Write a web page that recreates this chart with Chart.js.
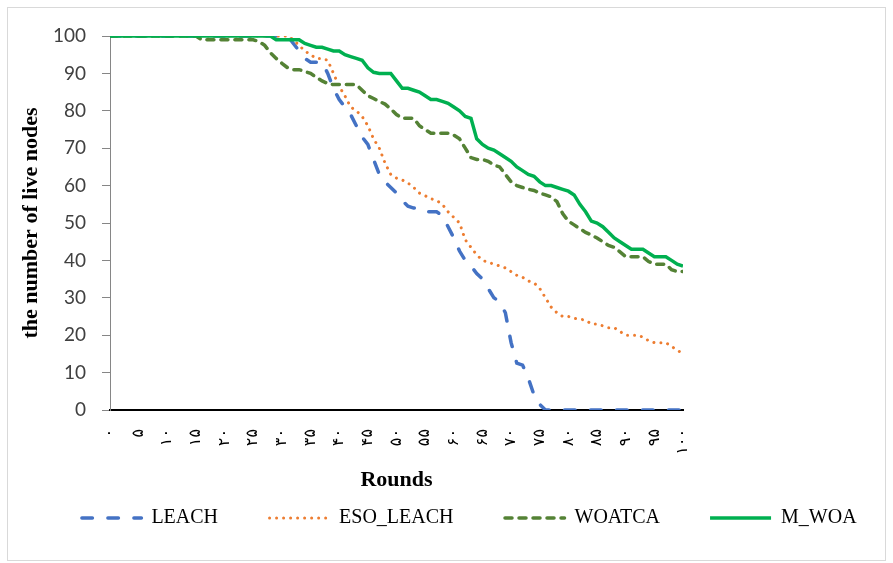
<!DOCTYPE html>
<html>
<head>
<meta charset="utf-8">
<script src="https://cdn.jsdelivr.net/npm/chart.js@4.4.1/dist/chart.umd.min.js"></script>
<style>
html,body{margin:0;padding:0;background:#fff;}
#wrap{width:893px;height:563px;position:relative;}
</style>
</head>
<body>
<div id="wrap"><canvas id="c" width="893" height="563"></canvas></div>
<script>
// ---- data ----
const rounds = [
  0,1,2,3,4,5,6,7,8,9,
  10,11,12,13,14,15,16,17,18,19,
  20,21,22,23,24,25,26,27,28,29,
  30,31,32,33,34,35,36,37,38,39,
  40,41,42,43,44,45,46,47,48,49,
  50,51,52,53,54,55,56,57,58,59,
  60,61,62,63,64,65,66,67,68,69,
  70,71,72,73,74,75,76,77,78,79,
  80,81,82,83,84,85,86,87,88,89,
  90,91,92,93,94,95,96,97,98,99,
  100
];

const tickValues = [0,5,10,15,20,25,30,35,40,45,50,55,60,65,70,75,80,85,90,95,100];
const tickLabels = ['۰','۵','۱۰','۱۵','۲۰','۲۵','۳۰','۳۵','۴۰','۴۵','۵۰','۵۵','۶۰','۶۵','۷۰','۷۵','۸۰','۸۵','۹۰','۹۵','۱۰۰'];

const seriesNames = ['LEACH','ESO_LEACH','WOATCA','M_WOA'];

const leach = [
  100,100,100,100,100,100,100,100,100,100,
  100,100,100,100,100,100,100,100,100,100,
  100,100,100,100,100,100,100,100,100,100,
  100,100,98,96,94,93,93,93,90,86,
  83,81,79,76,73,71,67,63,61,59.5,
  58,56,54.5,54,54,53,53,53,52,49,
  46,42.5,40,38.5,36.5,35,32.5,30,29,26,
  18,12.5,12,8.5,4,1.5,0,0,0,0,
  0,0,0,0,0,0,0,0,0,0,
  0,0,0,0,0,0,0,0,0,0,
  0
];

const esoLeach = [
  100,100,100,100,100,100,100,100,100,100,
  100,100,100,100,100,100,100,100,100,100,
  100,100,100,100,100,100,100,100,100,100,
  100,100,99,97.5,96,95,94,94,93.5,90,
  86.5,84,81,80,78.5,76,72.5,70,66,63,
  62,61.5,60.7,59.5,58,57.3,56.5,56,55,53,
  51.5,50,45.5,43.5,41.5,40,39.5,39,38.5,38,
  37,36,35.5,34.5,34,32.5,30,27.5,26,25,
  25,24.5,24.3,24,23,23,22.5,22,22,21,
  20,20,20,19.5,18.5,18,18,18,17,16,
  15
];

const woatca = [
  100,100,100,100,100,100,100,100,100,100,
  100,100,100,100,100,100,99,99,99,99,
  99,99,99,99,99,99,98.5,97.5,95.5,94,
  92.7,91.5,91,91,90.5,90,89,88,87.3,87,
  87,87,87,87,85.5,84,83.3,82.5,81.8,80.5,
  79,78,78,78,76,75,74,74,74,74,
  73.5,72.5,70,67.5,67,67,66.5,65.5,65,63,
  61,60,59.5,59,58.7,58,57.5,57,55.7,52.5,
  50.5,49.5,48.5,47.5,46.8,46,45,44,43.5,42.3,
  41,41,41,41,39.7,39,39,39,37.5,37,
  37
];

const mWoa = [
  100,100,100,100,100,100,100,100,100,100,
  100,100,100,100,100,100,100,100,100,100,
  100,100,100,100,100,100,100,100,100,99,
  99,99,99,99,98,97.5,97,97,96.5,96,
  96,95,94.5,94,93.5,91.5,90.3,90,90,90,
  88,86,86,85.5,85,84,83,83,82.5,82,
  81,80,78.5,78,72.5,71,70,69.5,68.5,67.5,
  66.5,65,64,63,62.5,61,60,60,59.5,59,
  58.5,57.5,55,53,50.5,50,49,47.5,46,45,
  44,43,43,43,42,41,41,41,40,39,
  38.5
];

// ---- chart ----
const SAMPLE_OFFSET = 40;   // blank space before each legend sample (item spacing)
const SAMPLE_WIDTH = 61;

const framePlugin = {
  id: 'frame',
  beforeDraw(chart) {
    const ctx = chart.ctx;
    ctx.save();
    ctx.fillStyle = '#ffffff';
    ctx.fillRect(0, 0, chart.width, chart.height);
    ctx.strokeStyle = '#D9D9D9';
    ctx.lineWidth = 1;
    ctx.strokeRect(7.5, 7.5, 878, 553);
    ctx.restore();
  }
};

// draws the dashed/dotted line samples into the legend's own item boxes
const legendSamplePlugin = {
  id: 'legendSamples',
  afterDraw(chart) {
    const lg = chart.legend;
    if (!lg || !lg.legendHitBoxes) return;
    const ctx = chart.ctx;
    lg.legendItems.forEach((item, i) => {
      const hb = lg.legendHitBoxes[i];
      const ds = chart.data.datasets[item.datasetIndex];
      const y = Math.round(hb.top + hb.height / 2);
      const x0 = hb.left + SAMPLE_OFFSET;
      ctx.save();
      ctx.strokeStyle = ds.borderColor;
      ctx.lineWidth = ds.borderWidth;
      ctx.lineCap = ds.borderCapStyle || 'butt';
      ctx.setLineDash(ds.borderDash || []);
      ctx.beginPath();
      ctx.moveTo(x0 + (ds.borderCapStyle === 'round' ? 1.5 : 0), y);
      ctx.lineTo(x0 + SAMPLE_WIDTH, y);
      ctx.stroke();
      ctx.restore();
    });
  }
};

const serif = '"Liberation Serif", "Times New Roman", serif';

new Chart(document.getElementById('c'), {
  type: 'line',
  data: {
    labels: rounds,
    datasets: [
      { label: seriesNames[0], data: leach, borderColor: '#4472C4', backgroundColor: '#4472C4',
        borderWidth: 3.5, borderDash: [10.5, 15.5], borderCapStyle: 'round', order: 3 },
      { label: seriesNames[1], data: esoLeach, borderColor: '#ED7D31', backgroundColor: '#ED7D31',
        borderWidth: 3, borderDash: [0.01, 7], borderCapStyle: 'round', order: 2 },
      { label: seriesNames[2], data: woatca, borderColor: '#548235', backgroundColor: '#548235',
        borderWidth: 3.5, borderDash: [7, 7], borderCapStyle: 'round', order: 1 },
      { label: seriesNames[3], data: mWoa, borderColor: '#00B050', backgroundColor: '#00B050',
        borderWidth: 3.5, order: 0 }
    ]
  },
  options: {
    responsive: false,
    animation: false,
    elements: { point: { radius: 0 }, line: { tension: 0, fill: false } },
    layout: { padding: { left: 4, right: 0, top: 36, bottom: 25 } },
    plugins: {
      legend: {
        position: 'bottom',
        labels: {
          boxWidth: SAMPLE_OFFSET + SAMPLE_WIDTH,
          boxHeight: 0,
          padding: 10,
          color: '#000',
          font: { family: serif, size: 20 },
          sort: (a, b) => a.datasetIndex - b.datasetIndex,
          generateLabels(chart) {
            const items = Chart.defaults.plugins.legend.labels.generateLabels(chart);
            items.forEach(it => {
              it.fillStyle = 'rgba(0,0,0,0)';
              it.strokeStyle = 'rgba(0,0,0,0)';
              it.lineWidth = 0;
            });
            return items;
          }
        }
      },
      tooltip: { enabled: false }
    },
    scales: {
      x: {
        type: 'linear',
        min: 0, max: 100,
        afterFit(s) { s.height = 88; },
        afterBuildTicks(s) { s.ticks = tickValues.map(v => ({ value: v })); },
        ticks: {
          autoSkip: false, minRotation: 90, maxRotation: 90, padding: 19,
          color: '#000', font: { family: '"DejaVu Sans"', size: 16 },
          callback: (v) => tickLabels[tickValues.indexOf(v)]
        },
        grid: { display: true, drawOnChartArea: false, drawTicks: false },
        border: { display: true, color: '#000', width: 2 },
        title: {
          display: true, text: 'Rounds', color: '#000',
          font: { family: serif, size: 22, weight: 'bold' },
          padding: { top: 0, bottom: 4 }
        }
      },
      y: {
        min: 0, max: 100,
        afterFit(s) { s.width = 106; },
        ticks: { stepSize: 10, padding: 16, color: '#404040', font: { family: 'Lato', size: 19 } },
        grid: { drawOnChartArea: false, drawTicks: true, tickLength: 8, color: '#868686' },
        border: { display: true, color: '#868686', width: 1 },
        title: {
          display: true, text: 'the number of live nodes', color: '#000',
          font: { family: serif, size: 22, weight: 'bold' },
          padding: { top: 14, bottom: 0 }
        }
      },
      yR: {
        position: 'right',
        afterFit(s) { s.width = 210; },
        ticks: { display: false },
        grid: { display: false },
        border: { display: false }
      }
    }
  },
  plugins: [framePlugin, legendSamplePlugin]
});
</script>
</body>
</html>
